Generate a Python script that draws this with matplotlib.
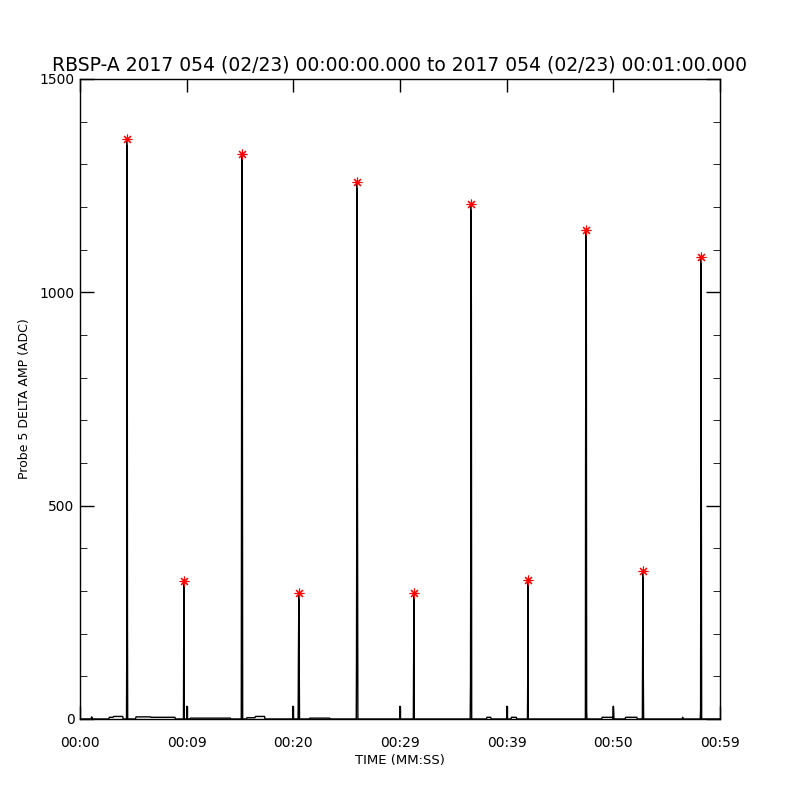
import numpy as np
import matplotlib
matplotlib.use('Agg')
import matplotlib.pyplot as plt

# time (s after 00:00:00) and probe 5 delta amplitude (ADC)
time_s = [0.0, 1.05, 1.1, 1.15, 2.7, 2.75, 3.1, 3.15, 4.0, 4.05,
          4.36, 4.38, 4.40, 4.43, 4.45, 4.47,
          5.2, 5.25, 6.6, 6.65, 8.9, 8.95,
          9.70, 9.72, 9.75, 9.78, 10.0, 10.03, 10.06,
          10.3, 10.35, 14.1, 14.15,
          15.12, 15.15, 15.19, 15.22, 15.25,
          15.6, 15.65, 16.4, 16.45, 17.3, 17.35,
          19.95, 19.98, 20.01,
          20.45, 20.48, 20.52, 20.55, 20.58,
          21.5, 21.55, 23.4, 23.45,
          25.90, 25.92, 25.94, 25.97, 26.00, 26.03, 26.05,
          29.97, 30.0, 30.03,
          31.25, 31.28, 31.31, 31.34,
          36.58, 36.61, 36.63, 36.66, 36.69, 36.72,
          38.1, 38.15, 38.5, 38.55,
          40.0, 40.03, 40.06, 40.4, 40.45, 40.9, 40.95,
          41.95, 41.98, 42.0, 42.03,
          47.38, 47.40, 47.44, 47.47, 47.50, 47.52,
          48.9, 48.95, 49.9, 49.95, 50.0, 50.05, 51.1, 51.15, 52.2, 52.25,
          52.72, 52.75, 52.78, 52.81, 52.84,
          56.45, 56.5, 56.55,
          58.15, 58.18, 58.20, 58.22, 58.25, 58.28,
          60.0]
amp_adc = [0, 0, 5, 0, 0, 4, 4, 6, 6, 0,
           0, 150, 1359, 907, 227, 0,
           0, 5, 5, 4, 4, 0,
           0, 169, 323, 0, 0, 30, 0,
           0, 2, 2, 0,
           0, 776, 1324, 933, 0,
           0, 3, 3, 6, 6, 0,
           0, 30, 0,
           0, 150, 295, 143, 0,
           0, 2, 2, 0,
           0, 127, 377, 1259, 700, 310, 0,
           0, 30, 0,
           0, 148, 295, 0,
           0, 84, 361, 1207, 963, 0,
           0, 4, 4, 0,
           0, 30, 0, 0, 4, 4, 0,
           0, 119, 326, 0,
           0, 619, 1146, 987, 20, 0,
           0, 4, 4, 0, 30, 0, 0, 4, 4, 0,
           0, 185, 347, 103, 0,
           0, 4, 0,
           0, 23, 470, 1082, 560, 0,
           0]

xtick_pos = [0, 10, 20, 30, 40, 50, 60]
xtick_labels = ['00:00', '00:09', '00:20', '00:29', '00:39', '00:50', '00:59']
ytick_pos = [0, 500, 1000, 1500]

t = np.array(time_s)
a = np.array(amp_adc)

# peaks above 250 get a red star
pk = [i for i in range(1, len(a) - 1) if a[i] > 250 and a[i] >= a[i - 1] and a[i] >= a[i + 1]]

fig = plt.figure(figsize=(8, 8), dpi=100, facecolor='w')
ax = fig.add_axes([0.1, 0.10125, 0.8, 0.8])
ax.plot(t, a, color='k', lw=1.0)
ax.plot(t[pk], a[pk], ls='none', marker=(8, 2, 0), ms=7, color='red', mew=0.8)

ax.set_xlim(0, 60)
ax.set_ylim(0, 1500)
ax.set_xticks(xtick_pos)
ax.set_xticklabels(xtick_labels)
ax.set_yticks(ytick_pos)
ax.set_yticks(np.arange(0, 1501, 100), minor=True)
ax.tick_params(direction='in', top=True, right=True, labelsize=10, width=1, color='k')
ax.tick_params(axis='x', which='major', length=9.5, pad=12)
ax.tick_params(axis='y', which='major', length=10, pad=4)
ax.tick_params(axis='y', which='minor', length=5, direction='in', right=True, left=True)
for s in ax.spines.values():
    s.set_linewidth(1.0)

ax.set_xlabel('TIME (MM:SS)', fontsize=9.5, labelpad=3)
ax.set_ylabel('Probe 5 DELTA AMP (ADC)', fontsize=9, labelpad=6)
ax.set_title('RBSP-A 2017 054 (02/23) 00:00:00.000 to 2017 054 (02/23) 00:01:00.000',
             fontsize=13.5, pad=6)

fig.savefig('out.png', dpi=100, facecolor='w')
